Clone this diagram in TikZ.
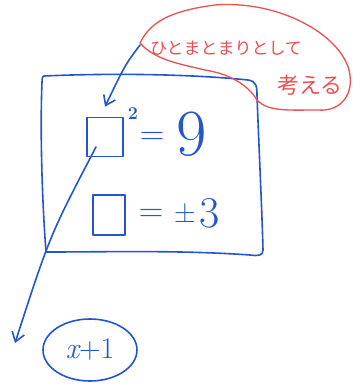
\documentclass[tikz,border=0pt]{standalone}
\usepackage{fontspec}
\newfontfamily\jpfont{Noto Sans CJK JP}
\usepackage{xcolor}
\usepackage{tikz}
\usetikzlibrary{arrows.meta, calc, shapes.geometric, positioning}

\definecolor{penblue}{RGB}{35,85,205}
\definecolor{penred}{RGB}{232,80,84}

\tikzset{
  pen/.style={penblue, line width=1.6pt, line cap=round, line join=round},
  redpen/.style={penred, line width=1.3pt, line cap=round, line join=round},
  blank/.style={pen, draw, inner sep=0pt},
  ink/.style={penblue, inner sep=0pt},
  barb/.style={-{Straight Barb[length=3.2mm, width=4.5mm]}}
}

\begin{document}
\begin{tikzpicture}[x=1pt,y=-1pt]
\useasboundingbox (0,0) rectangle (353,386);
% big frame (hand drawn)
\draw[pen] (44,76) .. controls (110,73) and (190,74) .. (248,80)
  .. controls (256,81) and (257,86) .. (257,95)
  .. controls (259,150) and (262,210) .. (263,250)
  .. controls (263,256) and (258,256) .. (250,255)
  .. controls (180,250) and (110,252) .. (46,252)
  .. controls (42,200) and (40,130) .. (42,82)
  .. controls (42,77) and (43,76) .. (44,76);
% red bubble
\draw[redpen] (140,43) .. controls (148,28) and (160,12) .. (215,5)
  .. controls (280,0) and (340,35) .. (349,70)
  .. controls (355,95) and (340,112) .. (318,110)
  .. controls (290,110) and (268,112) .. (257,100)
  .. controls (248,85) and (230,74) .. (205,70)
  .. controls (180,64) and (155,60) .. (140,43);
\node[penred, font=\jpfont\fontsize{17}{17}\selectfont, inner sep=0pt] (phrase) at (226,48) {ひとまとまりとして};
\node[penred, font=\jpfont\fontsize{22}{22}\selectfont, inner sep=0pt] (think) at (310,85) {考える};
\coordinate (tip) at (140,45);
% equations
\node[blank, minimum width=36pt, minimum height=39pt] (box1) at (105,137) {};
\node[ink, font=\fontsize{18}{18}\selectfont\bfseries] (sq) at (133,114) {2};
\node[ink, font=\fontsize{34}{34}\selectfont] (eq1) at (152,138) {=};
\node[ink, font=\fontsize{66}{66}\selectfont] (nine) at (192,134) {9};
\node[blank, minimum width=32pt, minimum height=40pt] (box2) at (109,215) {};
\node[ink, font=\fontsize{34}{34}\selectfont] (eq2) at (151,215) {=};
\node[ink, font=\fontsize{30}{30}\selectfont] (pm) at (185,213) {±};
\node[ink, font=\fontsize{44}{44}\selectfont] (three) at (210,213) {3};
% answer
\node[pen, draw, ellipse, minimum width=94pt, minimum height=62pt, inner sep=0pt,
  font=\fontsize{30}{30}\selectfont, text=penblue] (ans) at (90,350) {{\itshape x}+1};
\coordinate (inner) at (96,147);
\coordinate (down) at (15,343);
% arrows
\draw[pen, barb] (tip) .. controls (125,65) .. ($(box1.north)+(0,-10)$);
\draw[pen, barb] (inner) .. controls (50,235) .. (down);
\end{tikzpicture}
\end{document}
